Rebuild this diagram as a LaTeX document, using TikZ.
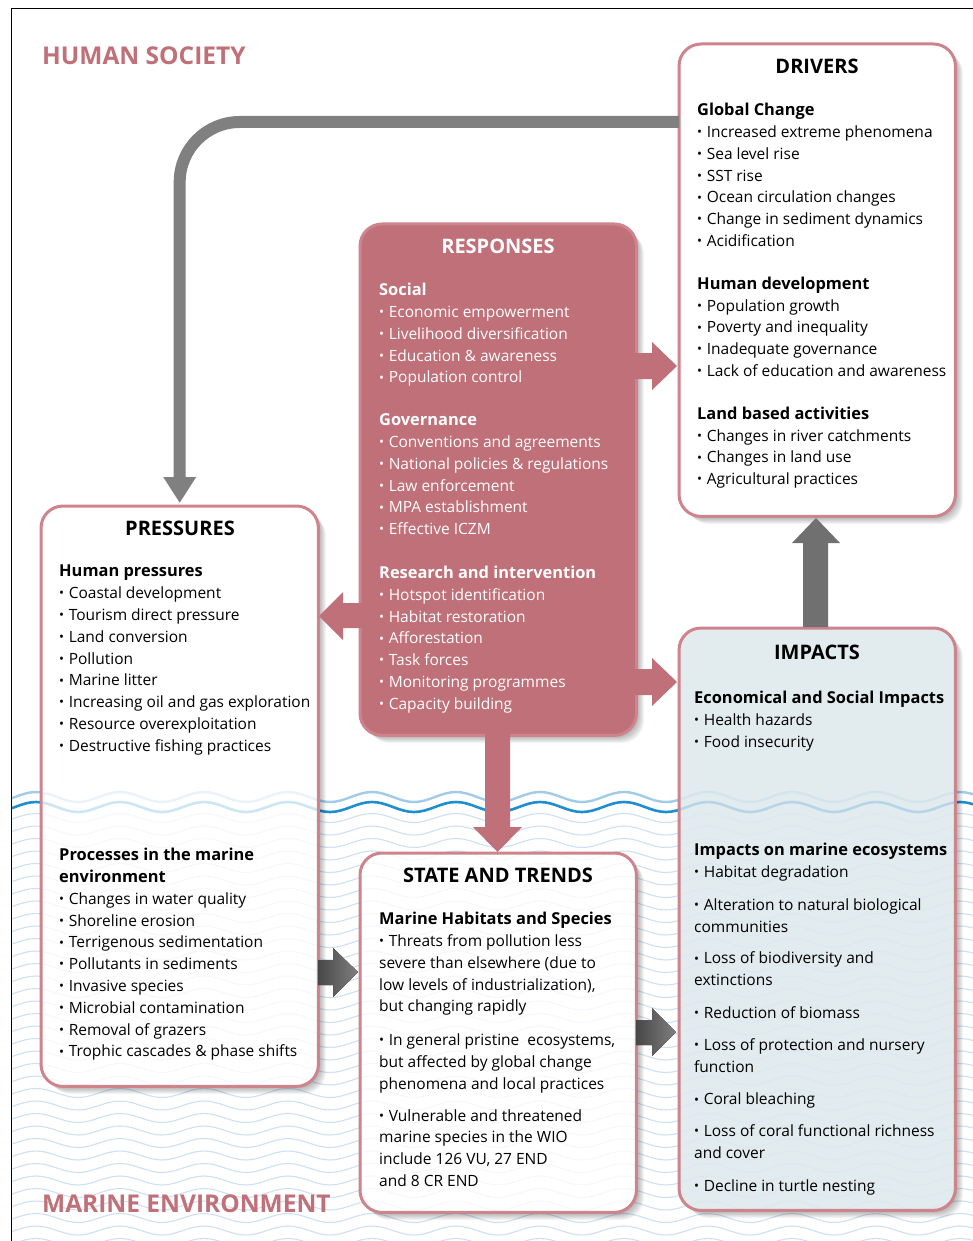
\documentclass[tikz,border=0pt]{standalone}
\usepackage{fontspec}
\setmainfont{Open Sans}
\usetikzlibrary{arrows.meta,calc}
\definecolor{rose}{RGB}{192,112,120}
\definecolor{roseline}{RGB}{206,132,140}
\definecolor{impfill}{RGB}{226,235,238}
\definecolor{wavebg}{RGB}{206,224,242}
\definecolor{wavelt}{RGB}{160,204,234}
\definecolor{wavedk}{RGB}{30,142,208}
\definecolor{arrgray}{RGB}{128,128,128}
\definecolor{arrdark}{RGB}{112,112,112}
\newcommand\waveline[3]{% y, amplitude, style
  \draw[#3] (-69,#1) \foreach \k in {1,...,13}{ sin ++(21,-#2) cos ++(21,#2) sin ++(21,#2) cos ++(21,-#2)};}
\newcommand\allwaves{%
  \foreach \yy in {818,830.5,...,1250}{\waveline{\yy}{4.5}{wavebg, line width=1.1pt}}
  \waveline{797}{5}{wavelt, line width=2.4pt}
  \waveline{807}{5}{wavedk, line width=2.6pt}}
\newcommand\shbox[4]{\foreach \i in {1,...,8}{\fill[black, opacity=0.045, rounded corners=22pt] ({#1+\i},{#2+\i}) rectangle ({#3+\i},{#4+\i});}}
\newcommand\bu{\raisebox{0.05em}{\scalebox{0.85}{•}}\hspace{0.3em}}
\newcommand\hd[1]{{\fontsize{16.4}{21.8}\selectfont\bfseries #1}}
\tikzset{
  txt/.style={anchor=north west, inner sep=0pt, align=left, font=\fontsize{15.5}{21.8}\selectfont},
  ttl/.style={inner sep=0pt, font=\fontsize{20}{24}\selectfont\bfseries},
  big/.style={inner sep=0pt, anchor=west, text=rose, font=\fontsize{24.5}{28}\selectfont\bfseries},
  box/.style={anchor=north west, inner sep=0pt, rounded corners=22pt, fill=white},
  rim/.style={roseline, line width=3pt, rounded corners=22pt},
  rosearrow/.style={fill=rose},
  grayarrow/.style={left color=black!72, right color=black!50},
}
\begin{document}
\begin{tikzpicture}[x=1pt,y=-1pt]
\useasboundingbox (0,0) rectangle (973,1241);
\fill[white] (0,0) rectangle (973,1241);
% water
\begin{scope}
  \clip (11,9) rectangle (973,1241);
  \allwaves
\end{scope}
\draw[black, line width=1pt] (973,9) -- (11,9) -- (11,1241);
% region titles
\node[big] (hs) at (42,56) {HUMAN SOCIETY};
\node[big] (me) at (42,1204) {MARINE ENVIRONMENT};
% shadows
\shbox{679}{44}{955}{516}
\shbox{360}{224}{636}{735}
\shbox{41}{506}{318}{1086}
\shbox{360}{853}{636}{1212}
\shbox{679}{628}{955}{1210}
% boxes
\node[box, minimum width=276pt, minimum height=472pt] (drv) at (679,44) {};
\node[box, fill=rose, minimum width=276pt, minimum height=511pt] (rsp) at (360,224) {};
\node[box, minimum width=277pt, minimum height=580pt] (prs) at (41,506) {};
\node[box, minimum width=276pt, minimum height=359pt] (stt) at (360,853) {};
\node[box, fill=impfill, minimum width=276pt, minimum height=582pt] (imp) at (679,628) {};
\foreach \b in {prs,stt,imp}{
  \begin{scope}
    \clip[rounded corners=22pt] (\b.north west) rectangle (\b.south east);
    \begin{scope}[opacity=0.22]\allwaves\end{scope}
  \end{scope}}
\foreach \b in {drv,rsp,prs,stt,imp}{
  \draw[rim] (\b.north west) rectangle (\b.south east);}
% top connector drivers -> pressures
\draw[arrgray, line width=12pt, rounded corners=60pt, -{Triangle[width=31pt,length=26pt]}]
  ($(drv.north west)+(0,78)$) -| ([yshift=3pt]prs.north);
% block arrows from responses
\fill[rosearrow] (634,353) -- (652,353) -- (652,342) -- (677,366) -- (652,390) -- (652,379) -- (634,379) -- cycle;
\fill[rosearrow] (634,669) -- (652,669) -- (652,658) -- (677,682) -- (652,706) -- (652,695) -- (634,695) -- cycle;
\fill[rosearrow] (362,603) -- (343,603) -- (343,592) -- (319,616) -- (343,640) -- (343,628) -- (362,628) -- cycle;
\fill[rosearrow] (485,733) -- (510,733) -- (510,827) -- (522,827) -- (497.5,852) -- (473,827) -- (485,827) -- cycle;
% grey block arrows
\fill[grayarrow] (318,960) -- (333,960) -- (333,948) -- (358,972) -- (333,997) -- (333,985) -- (318,985) -- cycle;
\fill[grayarrow] (636,1020) -- (652,1020) -- (652,1008) -- (676,1032) -- (652,1056) -- (652,1045) -- (636,1045) -- cycle;
\fill[arrdark] (803,627) -- (803,543) -- (792,543) -- (816,518) -- (840,543) -- (828,543) -- (828,627) -- cycle;
% titles
\node[ttl] (drvt) at (817,66) {DRIVERS};
\node[ttl, text=white] (rspt) at (498,246) {RESPONSES};
\node[ttl] (prst) at (180,528) {PRESSURES};
\node[ttl] (sttt) at (498,875) {STATE AND TRENDS};
\node[ttl] (impt) at (817,652) {IMPACTS};
% texts
\node[txt] (drvx) at (697,103) {\hd{Global Change}\\
\bu Increased extreme phenomena\\
\bu Sea level rise\\
\bu SST rise\\
\bu Ocean circulation changes\\
\bu Change in sediment dynamics\\
\bu Acidification\\[21pt]
\hd{Human development}\\
\bu Population growth\\
\bu Poverty and inequality\\
\bu Inadequate governance\\
\bu Lack of education and awareness\\[21pt]
\hd{Land based activities}\\
\bu Changes in river catchments\\
\bu Changes in land use\\
\bu Agricultural practices};
\node[txt, text=white] (rspx) at (379,283) {\hd{Social}\\
\bu Economic empowerment\\
\bu Livelihood diversification\\
\bu Education \& awareness\\
\bu Population control\\[21pt]
\hd{Governance}\\
\bu Conventions and agreements\\
\bu National policies \& regulations\\
\bu Law enforcement\\
\bu MPA establishment\\
\bu Effective ICZM\\[22pt]
\hd{Research and intervention}\\
\bu Hotspot identification\\
\bu Habitat restoration\\
\bu Afforestation\\
\bu Task forces\\
\bu Monitoring programmes\\
\bu Capacity building};
\node[txt] (prsx) at (59,565) {\hd{Human pressures}\\
\bu Coastal development\\
\bu Tourism direct pressure\\
\bu Land conversion\\
\bu Pollution\\
\bu Marine litter\\
\bu Increasing oil and gas exploration\\
\bu Resource overexploitation\\
\bu Destructive fishing practices};
\node[txt] (prsy) at (59,848) {\hd{Processes in the marine}\\
\hd{environment}\\
\bu Changes in water quality\\
\bu Shoreline erosion\\
\bu Terrigenous sedimentation\\
\bu Pollutants in sediments\\
\bu Invasive species\\
\bu Microbial contamination\\
\bu Removal of grazers\\
\bu Trophic cascades \& phase shifts};
\node[txt] (sttx) at (379,912) {\hd{Marine Habitats and Species}\\
\bu Threats from pollution less\\
severe than elsewhere (due to\\
low levels of industrialization),\\
but changing rapidly\\[12pt]
\bu In general pristine\ \ ecosystems,\\
but affected by global change\\
phenomena and local practices\\[10pt]
\bu Vulnerable and threatened\\
marine species in the WIO\\
include 126 VU, 27 END\\
and 8 CR END};
\node[txt] (impx) at (694,691) {\hd{Economical and Social Impacts}\\
\bu Health hazards\\
\bu Food insecurity};
\node[txt] (impy) at (694,843) {\hd{Impacts on marine ecosystems}\\
\bu Habitat degradation\\[11pt]
\bu Alteration to natural biological\\
communities\\[10pt]
\bu Loss of biodiversity and\\
extinctions\\[11pt]
\bu Reduction of biomass\\[10pt]
\bu Loss of protection and nursery\\
function\\[11pt]
\bu Coral bleaching\\[10pt]
\bu Loss of coral functional richness\\
and cover\\[11pt]
\bu Decline in turtle nesting};
\end{tikzpicture}
\end{document}
